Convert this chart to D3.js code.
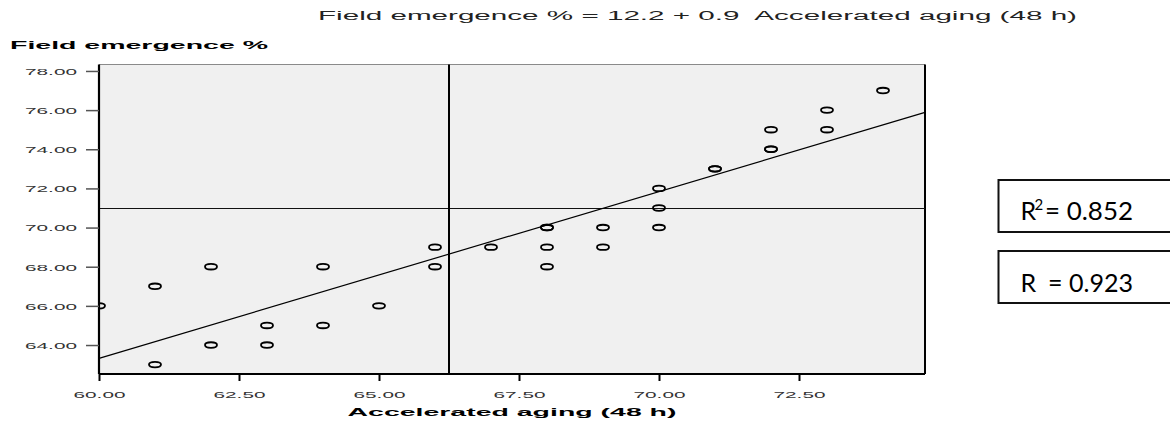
<!DOCTYPE html>
<html>
<head>
<meta charset="utf-8">
<script src="https://cdn.jsdelivr.net/npm/d3@7"></script>
<style>
  html, body { margin: 0; padding: 0; background: #fff; }
  svg { display: block; }
  text { white-space: pre; }
</style>
</head>
<body>
<svg id="chart" width="1170" height="423"></svg>
<script>
// ---- data ----
const agingX = [60, 61, 61, 62, 62, 63, 63, 64, 64, 65, 66, 66, 67, 68, 68, 68, 68, 69, 69, 70, 70, 70, 71, 71, 72, 72, 72, 73, 73, 74];
const emergenceY = [66, 67, 63, 68, 64, 65, 64, 68, 65, 66, 69, 68, 69, 70, 70, 69, 68, 70, 69, 72, 71, 70, 73, 73, 75, 74, 74, 76, 75, 77];
const xTicks = [60, 62.5, 65, 67.5, 70, 72.5];
const xTickLabels = ["60.00", "62.50", "65.00", "67.50", "70.00", "72.50"];
const yTicks = [64, 66, 68, 70, 72, 74, 76, 78];
const yTickLabels = ["64.00", "66.00", "68.00", "70.00", "72.00", "74.00", "76.00", "78.00"];
const xDomain = [60, 74.75];
const yDomain = [62.52, 78.33];
const refX = [66.25];          // vertical reference line
const refY = [71];             // horizontal reference line
const fitIntercept = [12.2];
const fitSlope = [0.852];
const titleText = "Field emergence % = 12.2 + 0.9  Accelerated aging (48 h)";
const yTitle = "Field emergence %";
const xTitle = "Accelerated aging (48 h)";
const statLabels = ["0.852", "0.923"];

// ---- layout ----
const svg = d3.select("#chart");
const L = 99, R = 925, T = 64.5, B = 374;
const x = d3.scaleLinear().domain(xDomain).range([L, R]);
const y = d3.scaleLinear().domain(yDomain).range([B, T]);

const tickFont = "'Liberation Sans', Arial, sans-serif";

// plot background
svg.append("rect").attr("x", L).attr("y", T).attr("width", R - L).attr("height", B - T)
  .attr("fill", "#f0f0f0");
// top border thin gray
svg.append("line").attr("x1", L).attr("x2", R).attr("y1", T).attr("y2", T)
  .attr("stroke", "#8a8a8a").attr("stroke-width", 1);
// right border thick
svg.append("line").attr("x1", R).attr("x2", R).attr("y1", T).attr("y2", B)
  .attr("stroke", "#000").attr("stroke-width", 2);

// reference lines
const hy = Math.round(y(refY[0])) + 0.5;
svg.append("line").attr("x1", L).attr("x2", R).attr("y1", hy).attr("y2", hy)
  .attr("stroke", "#111").attr("stroke-width", 1);
const vx = Math.round(x(refX[0]));
svg.append("line").attr("x1", vx).attr("x2", vx).attr("y1", T).attr("y2", B)
  .attr("stroke", "#000").attr("stroke-width", 2);

// fit line
const fx = xDomain;
svg.append("line")
  .attr("x1", x(fx[0])).attr("y1", y(fitIntercept[0] + fitSlope[0] * fx[0]))
  .attr("x2", x(fx[1])).attr("y2", y(fitIntercept[0] + fitSlope[0] * fx[1]))
  .attr("stroke", "#000").attr("stroke-width", 1.2);

// points (clip to plot area)
svg.append("clipPath").attr("id", "pc").append("rect")
  .attr("x", L).attr("y", T).attr("width", R - L).attr("height", B - T);
svg.append("g").attr("clip-path", "url(#pc)")
  .selectAll("ellipse").data(agingX.map((d, i) => [d, emergenceY[i]]))
  .join("ellipse")
  .attr("cx", d => x(d[0])).attr("cy", d => y(d[1]))
  .attr("rx", 6).attr("ry", 2.8)
  .attr("fill", "none").attr("stroke", "#000").attr("stroke-width", 1.8);

// y axis
const yAxis = svg.append("g").attr("transform", `translate(${L},0)`)
  .call(d3.axisLeft(y).tickValues(yTicks).tickSize(13).tickPadding(0).tickFormat((d, i) => yTickLabels[i]));
yAxis.select(".domain").attr("stroke", "#000").attr("stroke-width", 2.2).attr("d", `M0,${T}V${B}`);
yAxis.selectAll(".tick line").attr("stroke", "#555").attr("stroke-width", 1.5);
yAxis.selectAll(".tick text").attr("x", -22).attr("dy", "0.36em")
  .attr("font-family", tickFont).attr("font-size", 9.5).attr("fill", "#333")
  .attr("textLength", 52).attr("lengthAdjust", "spacingAndGlyphs");

// x axis
const xAxis = svg.append("g").attr("transform", `translate(0,${B})`)
  .call(d3.axisBottom(x).tickValues(xTicks).tickSize(7).tickFormat((d, i) => xTickLabels[i]));
xAxis.select(".domain").attr("stroke", "#000").attr("stroke-width", 2.2).attr("d", `M${L},0H${R}`);
xAxis.selectAll(".tick line").attr("stroke", "#000").attr("stroke-width", 2);
xAxis.selectAll(".tick text").attr("y", 23.6).attr("dy", 0)
  .attr("font-family", tickFont).attr("font-size", 9.5).attr("fill", "#333")
  .attr("textLength", 52).attr("lengthAdjust", "spacingAndGlyphs");

// titles
svg.append("text").attr("x", 318).attr("y", 20).text(titleText)
  .attr("font-family", tickFont).attr("font-size", 12.5).attr("fill", "#222")
  .attr("textLength", 759).attr("lengthAdjust", "spacingAndGlyphs");
svg.append("text").attr("x", 10).attr("y", 49).text(yTitle)
  .attr("font-family", tickFont).attr("font-weight", "bold").attr("font-size", 11.5).attr("fill", "#000")
  .attr("textLength", 258).attr("lengthAdjust", "spacingAndGlyphs");
svg.append("text").attr("x", (L + R) / 2).attr("y", 416).text(xTitle)
  .attr("text-anchor", "middle")
  .attr("font-family", tickFont).attr("font-weight", "bold").attr("font-size", 11.5).attr("fill", "#000")
  .attr("textLength", 329).attr("lengthAdjust", "spacingAndGlyphs");

// stat boxes
const boxFont = "Lato, 'Open Sans', sans-serif";
const boxes = [{top: 180, label: "R", sup: "2", eqX: 1045, val: "= " + statLabels[0], base: 220},
               {top: 251, label: "R", sup: "", eqX: 1048, val: "= " + statLabels[1], base: 291.5}];
boxes.forEach(b => {
  svg.append("rect").attr("x", 998.5).attr("y", b.top).attr("width", 200).attr("height", 52)
    .attr("fill", "#fff").attr("stroke", "#111").attr("stroke-width", 2);
  svg.append("text").attr("x", 1020.5).attr("y", b.base).text(b.label)
    .attr("font-family", boxFont).attr("font-size", 25).attr("fill", "#000");
  if (b.sup) {
    svg.append("text").attr("x", 1034.5).attr("y", b.base - 10).text(b.sup)
      .attr("font-family", boxFont).attr("font-size", 15).attr("fill", "#000");
  }
  svg.append("text").attr("x", b.eqX).attr("y", b.base).text(b.val)
    .attr("font-family", boxFont).attr("font-size", 25).attr("fill", "#000")
    .attr("textLength", 1133 - b.eqX).attr("lengthAdjust", "spacingAndGlyphs");
});
</script>
</body>
</html>
